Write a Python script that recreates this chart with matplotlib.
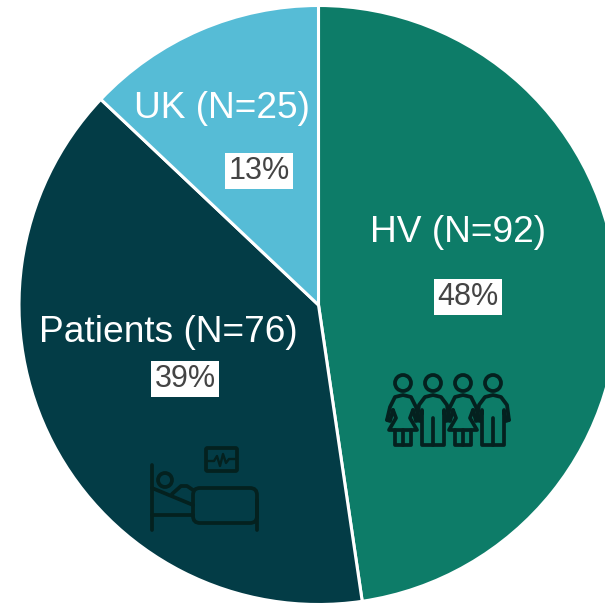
import numpy as np
import matplotlib
matplotlib.use('Agg')
import matplotlib.pyplot as plt
from matplotlib.patches import Circle, FancyBboxPatch

plt.rcParams['font.family'] = ['Liberation Sans', 'DejaVu Sans']

groups = ['HV', 'Patients', 'UK']
counts = [92, 76, 25]
percents = ['48%', '39%', '13%']
colors = ['#0d7c68', '#033c46', '#56bcd6']

W = 605
fig = plt.figure(figsize=(6.05, 6.05), dpi=100)
ax = fig.add_axes([0, 0, 1, 1])

# y up in the axes, so flip reference pixel rows with this
def Y(y):
    return W - y

ax.pie(counts, colors=colors, startangle=90, counterclock=False,
       center=(318.5, Y(305)), radius=299.5,
       wedgeprops={'edgecolor': 'white', 'linewidth': 2.2})
ax.set_xlim(0, W)
ax.set_ylim(0, W)
ax.set_aspect('equal')
ax.axis('off')

name_pos = [(458, 232), (168, 333), (222, 109)]
pct_pos = [(468, 297), (185, 379), (259, 171)]
for i in range(len(groups)):
    ax.text(name_pos[i][0], Y(name_pos[i][1]), f'{groups[i]} (N={counts[i]})',
            color='white', fontsize=26.7, ha='center', va='center')
    ax.text(pct_pos[i][0], Y(pct_pos[i][1]), percents[i], color='#444444',
            fontsize=22, ha='center', va='center',
            bbox={'facecolor': 'white', 'edgecolor': 'none', 'pad': 2.5})

ink = '#04211f'


def line(xs, ys, lw=2.7):
    ax.plot(xs, [Y(v) for v in ys], color=ink, lw=lw, solid_capstyle='round',
            solid_joinstyle='round')


def ring(x, y, r, lw=2.7):
    ax.add_patch(Circle((x, Y(y)), r, fill=False, edgecolor=ink, lw=lw))


def woman(x):
    ring(x, 383, 8)
    line([x - 16, x - 13, x - 8, x, x + 8, x + 13, x + 16],
         [420, 407, 397, 395, 397, 407, 420])
    line([x - 16, x - 13, x - 10], [420, 421, 410])
    line([x + 16, x + 13, x + 10], [420, 421, 410])
    line([x - 10, x - 7, x - 14, x + 14, x + 7, x + 10],
         [410, 418, 430, 430, 418, 410])
    line([x - 8, x - 8, x + 8, x + 8], [430, 445, 445, 430])
    line([x, x], [430, 445])


def man(x):
    ring(x, 383, 8)
    line([x - 16, x - 14, x - 8, x, x + 8, x + 14, x + 16],
         [420, 405, 397, 395, 397, 405, 420])
    line([x - 16, x - 13, x - 11, x - 11, x + 11, x + 11, x + 13, x + 16],
         [420, 421, 410, 445, 445, 410, 421, 420])
    line([x, x], [418, 445])


woman(403)
man(433)
woman(463)
man(493)

# bed
line([152, 152], [465, 530])
line([257, 257], [500, 530])
ring(165, 480, 7)
line([152, 193], [488, 505])
line([152, 193], [515, 515])
line([172, 181, 187, 193], [494, 486, 486, 490])
ax.add_patch(FancyBboxPatch((197, Y(523) + 4), 56, 27,
                            boxstyle='round,pad=4,rounding_size=7',
                            fill=False, edgecolor=ink, lw=2.7))
# monitor
ax.add_patch(FancyBboxPatch((206, Y(471)), 31, 23,
                            boxstyle='round,pad=0,rounding_size=1.5',
                            fill=False, edgecolor=ink, lw=2.7))
line([207, 214, 217, 220, 223, 226, 229, 236],
     [461, 461, 456, 466, 454, 463, 459, 459], lw=1.7)

fig.savefig('out.png', dpi=100)
